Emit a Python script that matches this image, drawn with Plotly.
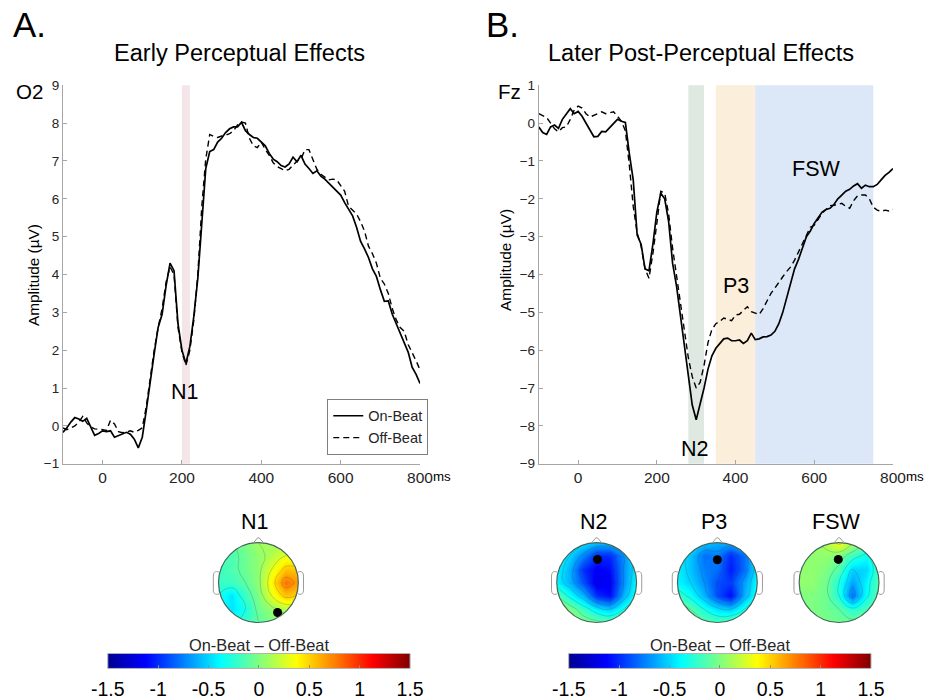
import numpy as np
import plotly.graph_objects as go

W, H = 932, 700

# ---------------- data ----------------
time_ms = list(range(-100, 801, 10))

o2_on = [-0.17, -0.05, 0.10, 0.22, 0.18, 0.12, 0.20, -0.04, -0.25, -0.20,
         -0.13, -0.15, -0.13, -0.30, -0.25, -0.20, -0.17, -0.22, -0.35, -0.58,
         -0.30, 0.40, 1.20, 1.90, 2.60, 2.95, 3.70, 4.30, 4.10, 2.70,
         2.00, 1.65, 2.10, 2.90, 3.90, 5.50, 6.80, 7.25, 7.30, 7.50,
         7.60, 7.75, 7.85, 7.90, 7.90, 8.02, 7.80, 7.70, 7.62, 7.60,
         7.50, 7.40, 7.20, 7.05, 6.98, 6.88, 6.84, 6.92, 7.10, 6.98,
         7.15, 6.92, 6.80, 6.67, 6.74, 6.60, 6.52, 6.42, 6.32, 6.22,
         6.10, 5.90, 5.72, 5.55, 5.25, 4.88, 4.68, 4.45, 4.15, 3.95,
         3.60, 3.29, 3.30, 2.95, 2.70, 2.45, 2.25, 1.95, 1.55, 1.36,
         1.12]

o2_off = [-0.05, -0.10, -0.05, 0.00, 0.10, 0.25, 0.08, -0.03, -0.08, -0.10,
          -0.10, -0.12, 0.15, 0.05, -0.15, -0.18, -0.17, -0.13, -0.17, -0.12,
          -0.05, 0.50, 1.30, 2.00, 2.60, 3.10, 3.80, 4.20, 4.00, 2.60,
          1.95, 1.60, 2.00, 2.80, 4.00, 5.80, 7.05, 7.70, 7.65, 7.62,
          7.66, 7.68, 7.72, 7.80, 7.95, 8.03, 8.00, 7.60, 7.40, 7.35,
          7.50, 7.30, 7.15, 6.95, 6.85, 6.80, 6.74, 6.78, 6.90, 7.00,
          7.05, 7.30, 7.30, 7.05, 6.78, 6.65, 6.58, 6.50, 6.52, 6.50,
          6.35, 6.20, 5.80, 5.70, 5.60, 5.40, 5.15, 4.75, 4.55, 4.30,
          3.90, 3.75, 3.50, 3.10, 2.80, 2.60, 2.50, 2.15, 1.95, 1.72,
          1.48]

fz_on = [-0.10, -0.25, -0.30, -0.10, -0.05, -0.14, 0.10, 0.25, 0.38, 0.25,
         0.31, 0.18, 0.00, -0.20, -0.36, -0.35, -0.22, -0.23, -0.12, 0.00,
         0.10, 0.05, 0.02, -0.80, -1.50, -2.96, -3.20, -3.85, -3.90, -3.20,
         -2.35, -1.85, -2.00, -2.60, -3.70, -4.30, -5.10, -5.85, -6.75, -7.45,
         -7.84, -7.45, -7.00, -6.50, -6.15, -5.95, -5.82, -5.70, -5.68, -5.75,
         -5.75, -5.73, -5.82, -5.75, -5.55, -5.72, -5.70, -5.65, -5.64, -5.60,
         -5.50, -5.30, -5.00, -4.60, -4.20, -3.85, -3.60, -3.30, -3.00, -2.85,
         -2.65, -2.50, -2.35, -2.28, -2.25, -2.15, -2.00, -1.90, -1.80, -1.75,
         -1.66, -1.60, -1.72, -1.64, -1.68, -1.68, -1.62, -1.50, -1.38, -1.30,
         -1.20]

fz_off = [0.25, 0.21, 0.15, 0.00, -0.15, -0.23, -0.12, -0.10, 0.10, 0.35,
          0.45, 0.40, 0.25, 0.16, 0.20, 0.26, 0.30, 0.25, 0.28, 0.30,
          0.18, 0.05, -0.20, -1.10, -2.20, -2.90, -3.25, -3.85, -4.10, -3.44,
          -2.65, -1.80, -1.85, -2.40, -3.30, -4.06, -4.80, -5.50, -6.20, -6.70,
          -7.00, -6.85, -6.40, -5.80, -5.45, -5.30, -5.24, -5.15, -5.18, -5.22,
          -5.07, -5.05, -4.95, -4.85, -4.98, -5.03, -5.06, -4.90, -4.72, -4.50,
          -4.36, -4.20, -4.06, -3.92, -3.80, -3.62, -3.40, -3.18, -2.95, -2.75,
          -2.70, -2.55, -2.38, -2.28, -2.18, -2.17, -2.15, -2.12, -2.20, -2.25,
          -2.05, -1.92, -1.90, -1.90, -2.00, -2.22, -2.30, -2.33, -2.30, -2.32,
          -2.28]

series_names = ["On-Beat", "Off-Beat"]

win_a_names = ["N1"]
win_a_start = [200]
win_a_end = [220]

win_b_names = ["N2", "P3", "FSW"]
win_b_start = [280, 350, 450]
win_b_end = [320, 450, 750]

x_ticks = [0, 200, 400, 600, 800]

# topographic maps: 7x7 grid, rows listed from front (top) to back (bottom)
topo_grid = [-1.0, -0.67, -0.33, 0.0, 0.33, 0.67, 1.0]
topo_n1 = [[-0.10, -0.10, 0.00, 0.10, 0.10, 0.10, 0.15],
           [-0.15, -0.15, -0.05, 0.05, 0.15, 0.30, 0.30],
           [-0.20, -0.15, -0.05, 0.05, 0.30, 0.55, 0.55],
           [-0.20, -0.20, -0.10, 0.05, 0.40, 0.80, 0.65],
           [-0.30, -0.45, -0.20, 0.00, 0.30, 0.55, 0.50],
           [-0.30, -0.45, -0.30, -0.05, 0.05, 0.15, 0.15],
           [-0.20, -0.30, -0.20, -0.10, 0.00, 0.00, 0.00]]
topo_n2 = [[-0.30, -0.35, -0.45, -0.55, -0.55, -0.45, -0.40],
           [-0.35, -0.50, -0.75, -1.00, -1.00, -0.70, -0.40],
           [-0.40, -0.60, -1.00, -1.15, -1.10, -0.70, -0.40],
           [-0.40, -0.60, -0.90, -1.20, -1.15, -0.70, -0.35],
           [-0.10, -0.35, -0.60, -1.00, -1.10, -0.60, -0.30],
           [0.15, 0.00, -0.20, -0.40, -0.50, -0.30, -0.15],
           [0.20, 0.10, 0.00, -0.05, -0.10, 0.00, 0.00]]
topo_p3 = [[-0.35, -0.40, -0.55, -0.60, -0.60, -0.50, -0.35],
           [-0.40, -0.55, -0.80, -0.75, -1.00, -0.80, -0.40],
           [-0.40, -0.55, -0.75, -0.80, -1.05, -0.80, -0.40],
           [-0.40, -0.50, -0.70, -0.90, -0.95, -0.65, -0.35],
           [-0.20, -0.35, -0.60, -0.90, -1.10, -0.60, -0.30],
           [0.00, -0.10, -0.30, -0.45, -0.50, -0.30, -0.10],
           [0.05, 0.00, -0.10, -0.15, -0.10, 0.05, 0.10]]
topo_fsw = [[0.00, 0.05, 0.15, 0.35, 0.15, 0.00, -0.05],
            [0.00, 0.05, 0.05, 0.00, -0.20, -0.35, -0.10],
            [0.05, 0.05, 0.00, -0.15, -0.50, -0.50, -0.15],
            [0.05, 0.05, -0.05, -0.30, -0.65, -0.40, -0.10],
            [0.00, 0.00, -0.05, -0.30, -0.80, -0.35, -0.10],
            [0.00, 0.00, -0.05, -0.10, -0.25, -0.15, -0.05],
            [0.00, 0.00, 0.00, -0.05, -0.05, 0.00, 0.00]]
topo_names = ["N1", "N2", "P3", "FSW"]
topo_maps = [topo_n1, topo_n2, topo_p3, topo_fsw]
elec_x = [0.48, 0.02, 0.0, -0.02]
elec_y = [-0.75, 0.58, 0.57, 0.58]

cbar_ticks = [-1.5, -1, -0.5, 0, 0.5, 1, 1.5]
cbar_labels = ["-1.5", "-1", "-0.5", "0", "0.5", "1", "1.5"]
cbar_title = "On-Beat \u2013 Off-Beat"

# ---------------- style ----------------
FONT = "Liberation Sans, Arial, Helvetica, sans-serif"
AXC = "#a6a6a6"
TXT = "#262626"
win_a_colors = ["#f5e5e8"]
win_b_colors = ["#dfe9e2", "#fbeeda", "#dce8f7"]
JET = [[0.0, "#00008f"], [0.125, "#0000ff"], [0.375, "#00ffff"],
       [0.625, "#ffff00"], [0.875, "#ff0000"], [1.0, "#800000"]]
FS = 1.025  # font scale


def px(x):
    # reference-pixel x -> paper fraction (compensates capture scaling)
    return ((x - 16.0) / 0.969) / W


def py(y):
    return 1 - ((y - 6.6) / 0.98) / H


fig = go.Figure()

# ERP lines
for xa, ya, on, off, show in [("x", "y", o2_on, o2_off, True),
                              ("x2", "y2", fz_on, fz_off, False)]:
    fig.add_trace(go.Scatter(x=time_ms, y=on, mode="lines", name=series_names[0],
                             line=dict(color="black", width=1.7),
                             xaxis=xa, yaxis=ya, showlegend=show))
    fig.add_trace(go.Scatter(x=time_ms, y=off, mode="lines", name=series_names[1],
                             line=dict(color="black", width=1.4, dash="6px,4px"),
                             xaxis=xa, yaxis=ya, showlegend=show))

shapes = []
annotations = []

for s, e, c in zip(win_a_start, win_a_end, win_a_colors):
    shapes.append(dict(type="rect", xref="x", yref="y domain", x0=s, x1=e, y0=0, y1=1,
                       fillcolor=c, line=dict(width=0), layer="below"))
for s, e, c in zip(win_b_start, win_b_end, win_b_colors):
    shapes.append(dict(type="rect", xref="x2", yref="y2 domain", x0=s, x1=e, y0=0, y1=1,
                       fillcolor=c, line=dict(width=0), layer="below"))

axis_common = dict(showgrid=False, zeroline=False, showline=True, linecolor=AXC,
                   linewidth=1, ticks="inside", ticklen=4, tickcolor=AXC,
                   tickfont=dict(family=FONT, size=15.5, color=TXT))
ytick_font = dict(family=FONT, size=13.5, color=TXT)

layout = dict(
    width=W, height=H, autosize=False, margin=dict(l=0, r=0, t=0, b=0, pad=0),
    paper_bgcolor="white", plot_bgcolor="white",
    font=dict(family=FONT, color=TXT),
    xaxis=dict(domain=[px(62), px(420)], range=[-100, 800], tickvals=x_ticks,
               anchor="y", **axis_common),
    yaxis=dict(domain=[py(464), py(85)], range=[-1, 9], dtick=1, anchor="x",
               **{**axis_common, "tickfont": ytick_font}),
    xaxis2=dict(domain=[px(539), px(894)], range=[-100, 800], tickvals=x_ticks,
                anchor="y2", **axis_common),
    yaxis2=dict(domain=[py(464), py(85)], range=[-9, 1], dtick=1, anchor="x2",
                **{**axis_common, "tickfont": ytick_font}),
    legend=dict(x=px(327), y=py(399), xanchor="left", yanchor="top",
                bgcolor="white", bordercolor="#7f7f7f", borderwidth=1,
                font=dict(family=FONT, size=14.5, color=TXT), tracegroupgap=0,
                itemwidth=30),
)


def txt(text, x, y, size, color="black", **kw):
    annotations.append(dict(text=text, x=px(x), y=py(y), xref="paper", yref="paper",
                            xanchor="center", yanchor="middle", showarrow=False,
                            font=dict(size=size * FS, color=color), **kw))


# window labels
for name, s, e in zip(win_a_names, win_a_start, win_a_end):
    annotations.append(dict(text=name, x=(s + e) / 2 - 3, y=0.9, xref="x", yref="y",
                            xanchor="center", yanchor="middle",
                            showarrow=False, font=dict(size=21 * FS, color="black")))
lab_y_b = [-8.6, -4.3, -1.2]
lab_dx_b = [-4, 2, 5]
for name, s, e, yy, dx in zip(win_b_names, win_b_start, win_b_end, lab_y_b, lab_dx_b):
    annotations.append(dict(text=name, x=(s + e) / 2 + dx, y=yy, xref="x2", yref="y2",
                            xanchor="center", yanchor="middle",
                            showarrow=False, font=dict(size=21 * FS, color="black")))

# topographic maps
centers = [258, 597, 718, 840]
CY = 583
HALF = 48
theta = np.linspace(0, 2 * np.pi, 97)
circ = " ".join(f"L {np.cos(t):.4f},{np.sin(t):.4f}" for t in theta[1:])
mask_path = ("M -1.3,-1.3 L 1.3,-1.3 L 1.3,1.3 L -1.3,1.3 Z "
             f"M 1,0 {circ} Z")
for i, (cx, name, zmap, ex, ey) in enumerate(zip(centers, topo_names, topo_maps, elec_x, elec_y)):
    n = i + 3
    xa, ya = f"x{n}", f"y{n}"
    layout[f"xaxis{n}"] = dict(domain=[px(cx - HALF), px(cx + HALF)], range=[-1.2, 1.2],
                               visible=False, anchor=ya)
    layout[f"yaxis{n}"] = dict(domain=[py(CY + HALF), py(CY - HALF)], range=[-1.2, 1.2],
                               visible=False, anchor=xa)
    fig.add_trace(go.Contour(x=topo_grid, y=topo_grid, z=zmap[::-1], xaxis=xa, yaxis=ya,
                             colorscale=JET, zauto=False, zmin=-1.5, zmax=1.5,
                             showscale=False, hoverinfo="skip",
                             contours=dict(coloring="heatmap", start=-1.5, end=1.5, size=0.2,
                                           showlines=True),
                             line=dict(width=0.6, color="rgba(50,60,60,0.35)", smoothing=1.3)))
    fig.add_trace(go.Scatter(x=[ex], y=[ey], mode="markers", xaxis=xa, yaxis=ya,
                             marker=dict(color="black", size=9), showlegend=False,
                             hoverinfo="skip"))
    shapes.append(dict(type="path", xref=xa, yref=ya, path=mask_path, fillcolor="white",
                       line=dict(width=0), layer="above"))
    shapes.append(dict(type="circle", xref=xa, yref=ya, x0=-1, y0=-1, x1=1, y1=1,
                       line=dict(color="#46665c", width=1.2), layer="above"))
    for sgn in (1, -1):
        shapes.append(dict(type="path", xref=xa, yref=ya, layer="above",
                           path=(f"M {sgn*0.99},0.26 C {sgn*1.08},0.30 {sgn*1.13},0.26 {sgn*1.13},0.16 "
                                 f"L {sgn*1.13},-0.18 C {sgn*1.13},-0.28 {sgn*1.08},-0.32 {sgn*0.99},-0.28"),
                           line=dict(color="#9a9a9a", width=1)))
    shapes.append(dict(type="path", xref=xa, yref=ya, layer="above",
                       path="M -0.13,0.99 L -0.02,1.12 L 0.02,1.12 L 0.13,0.99",
                       line=dict(color="#9a9a9a", width=1)))
    txt(name, cx - 3, 522, 21)

# colorbars
ramp = np.linspace(-1.5, 1.5, 300)
for n, (x0, x1) in zip([7, 8], [(107, 410), (569, 872)]):
    xa, ya = f"x{n}", f"y{n}"
    layout[f"xaxis{n}"] = dict(domain=[px(x0), px(x1)], range=[-1.5, 1.5], anchor=ya,
                               tickvals=cbar_ticks, ticktext=cbar_labels, ticks="inside",
                               ticklen=3, tickcolor="#8c8c8c", showline=False,
                               showgrid=False, zeroline=False, ticklabelstandoff=7,
                               tickfont=dict(family=FONT, size=19.5, color="black"))
    layout[f"yaxis{n}"] = dict(domain=[py(669), py(654)], range=[-0.5, 0.5],
                               visible=False, anchor=xa)
    fig.add_trace(go.Heatmap(x=ramp, y=[0], z=[ramp], colorscale=JET, zmin=-1.5, zmax=1.5,
                             showscale=False, xaxis=xa, yaxis=ya, hoverinfo="skip"))
    shapes.append(dict(type="rect", xref="paper", yref="paper", x0=px(x0), x1=px(x1),
                       y0=py(669), y1=py(654), line=dict(color="#b0b0b0", width=1),
                       layer="above"))
    txt(cbar_title, (x0 + x1) / 2, 646, 16, color=TXT)

# panel texts
txt("A.", 29, 24, 34)
txt("B.", 503, 24, 34)
txt("Early Perceptual Effects", 239, 53, 23)
txt("Later Post-Perceptual Effects", 702, 53, 23)
txt("O2", 29, 91, 20)
txt("Fz", 510, 91, 20)
txt("Amplitude (\u00b5V)", 32, 275, 15, textangle=-90)
txt("Amplitude (\u00b5V)", 505, 260, 15, textangle=-90)
txt("ms", 442, 477, 13)
txt("ms", 916, 477, 13)

layout["shapes"] = shapes
layout["annotations"] = annotations
fig.update_layout(**layout)
fig.write_html("out.html",
               post_script="document.body.style.margin='0';document.body.style.overflow='hidden';")
